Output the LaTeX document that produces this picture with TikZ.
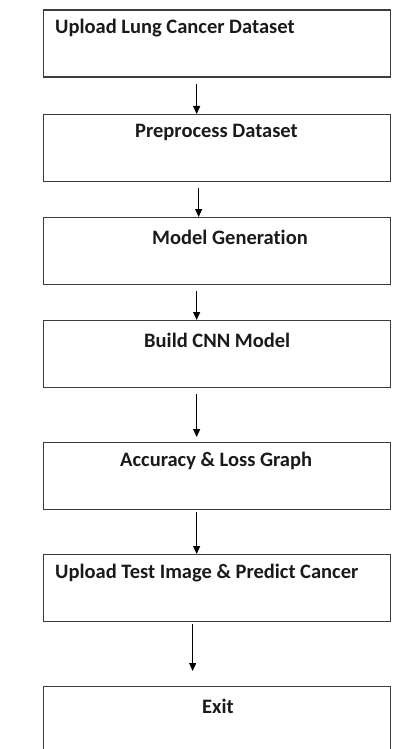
\documentclass[tikz,border=0pt]{standalone}
\usepackage{fontspec}
\setmainfont{Carlito}[Ligatures={NoCommon}]
\usetikzlibrary{arrows.meta}
\definecolor{lineg}{HTML}{3C3C3C}
\definecolor{txt}{HTML}{1A1A1A}
\tikzset{
  box/.style={draw=lineg,line width=1.3pt,rectangle,minimum width=347pt,minimum height=67pt,inner sep=0pt,anchor=north west},
  lbl/.style={anchor=west,inner sep=0pt,text=txt,font=\fontsize{20.5}{24}\selectfont\bfseries},
  arr/.style={draw=black,line width=1pt,-{Triangle[length=8pt,width=7pt]}}
}
\begin{document}
\begin{tikzpicture}[x=1pt,y=-1pt]
\useasboundingbox (0,0) rectangle (408,749);
\clip (0,0) rectangle (408,749);
\node[box] (b1) at (43,9.5) {};
\node[box] (b2) at (43,114) {};
\node[box] (b3) at (43,217) {};
\node[box] (b4) at (43,320) {};
\node[box] (b5) at (43,442) {};
\node[box] (b6) at (43,554) {};
\node[box] (b7) at (43,686) {};
\node[lbl] (t1) at (55,28.5) {Upload Lung Cancer Dataset};
\node[lbl] (t2) at (135,132.5) {Preprocess Dataset};
\node[lbl] (t3) at (152,237.5) {Model Generation};
\node[lbl] (t4) at (144,340.5) {Build CNN Model};
\node[lbl] (t5) at (120,460.5) {Accuracy \& Loss Graph};
\node[lbl] (t6) at (55,573.5) {Upload Test Image \& Predict Cancer};
\node[lbl] (t7) at (202,706.5) {Exit};
\draw[arr] ([xshift=-20.5pt,yshift=-6pt]b1.south) -- ([xshift=-20.5pt]b2.north);
\draw[arr] ([xshift=-18.5pt,yshift=-6pt]b2.south) -- ([xshift=-18.5pt]b3.north);
\draw[arr] ([xshift=-20.5pt,yshift=-6pt]b3.south) -- ([xshift=-20.5pt]b4.north);
\draw[arr] ([xshift=-20.5pt,yshift=-6pt]b4.south) -- ([xshift=-20.5pt,yshift=5pt]b5.north);
\draw[arr] ([xshift=-20.5pt,yshift=-2pt]b5.south) -- ([xshift=-20.5pt]b6.north);
\draw[arr] ([xshift=-24.5pt,yshift=-2pt]b6.south) -- ([xshift=-24.5pt,yshift=15pt]b7.north);
\end{tikzpicture}
\end{document}
